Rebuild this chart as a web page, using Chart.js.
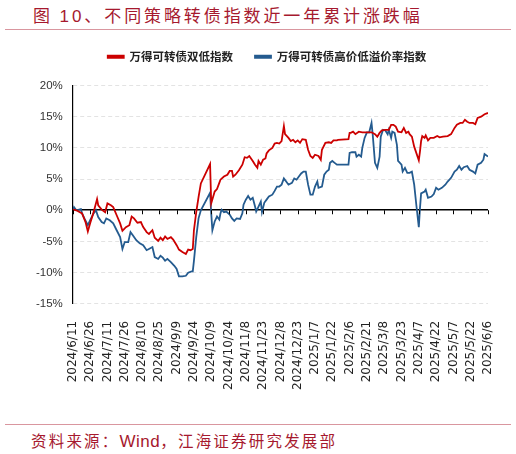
<!DOCTYPE html>
<html>
<head>
<meta charset="utf-8">
<script src="https://cdn.jsdelivr.net/npm/chart.js@4.4.1/dist/chart.umd.min.js"></script>
<style>
  html, body { margin: 0; padding: 0; background: #fff; }
  body { width: 516px; height: 454px; position: relative; overflow: hidden; }
  #title { position: absolute; left: 33px; top: 2px; font: 17px "Noto Sans CJK SC", sans-serif; letter-spacing: 2.9px; color: #a6192e; white-space: nowrap; }
  #title .num { font-family: "Liberation Sans", sans-serif; }
  .rule { position: absolute; left: 5px; width: 506px; height: 1px; background: #d9969f; }
  #box { position: absolute; left: 0; top: 21px; width: 516px; height: 397px; }
  #source { position: absolute; left: 31px; top: 429px; font: 15.5px "Noto Sans CJK SC", sans-serif; letter-spacing: 2.2px; color: #a6192e; white-space: nowrap; }
  #source .latin { font-family: "Liberation Sans", sans-serif; font-size: 17px; letter-spacing: 0.5px; }
</style>
</head>
<body>
<div id="title">图 <span class="num">10</span>、不同策略转债指数近一年累计涨跌幅</div>
<div class="rule" style="top:29px"></div>
<div id="box"><canvas id="chart"></canvas></div>
<div class="rule" style="top:424px"></div>
<div id="source">资料来源：<span class="latin">Wind</span>，江海证券研究发展部</div>

<script>
// x values are calendar days counted from 2024/6/11
const tickLabels = ['2024/6/11', '2024/6/26', '2024/7/11', '2024/7/26', '2024/8/10', '2024/8/25',
    '2024/9/9', '2024/9/24', '2024/10/9', '2024/10/24', '2024/11/8', '2024/11/23', '2024/12/8',
    '2024/12/23', '2025/1/7', '2025/1/22', '2025/2/6', '2025/2/21', '2025/3/8', '2025/3/23',
    '2025/4/7', '2025/4/22', '2025/5/7', '2025/5/22', '2025/6/6'];

const seriesNames = ['万得可转债双低指数', '万得可转债高价低溢价率指数'];

// 万得可转债双低指数 (%)
const redDays = [0, 1, 3, 8, 11, 13, 15, 18, 21, 22, 25, 28, 30, 33, 35, 38, 41, 43, 46, 49,
    51, 53, 56, 59, 61, 64, 66, 69, 71, 74, 76, 78, 80, 82, 85, 87, 90, 92, 95, 98,
    100, 102, 104, 105, 107, 109, 111, 119, 120, 123, 125, 127, 128, 131, 134, 136, 138, 139, 141, 144,
    147, 149, 151, 153, 156, 158, 160, 161, 163, 165, 167, 168, 170, 173, 175, 177, 179, 181, 183, 184,
    187, 189, 191, 193, 195, 197, 199, 202, 204, 206, 208, 210, 213, 215, 216, 219, 222, 224, 226, 229,
    230, 239, 240, 241, 243, 245, 248, 251, 254, 256, 259, 262, 264, 266, 268, 271, 274, 276, 278, 280,
    282, 285, 287, 289, 291, 292, 294, 296, 300, 301, 302, 303, 305, 306, 308, 310, 313, 316, 318, 321,
    325, 328, 331, 333, 336, 338, 340, 342, 344, 347, 349, 351, 354, 357, 360];
const redValues = [0.0, 0.1, 0.0, -0.5, -1.9, -3.4, -2.1, -0.3, 1.8, 0.8, 0.1, -0.3, 1.1, 0.8, 0.5, -0.8, -2.1, -3.3, -2.7, -2.4,
    -1.0, -1.3, -2.0, -1.9, -2.7, -3.5, -3.8, -3.2, -4.4, -4.9, -4.4, -4.8, -4.2, -4.6, -4.3, -4.7, -5.6, -6.3, -6.7, -7.0,
    -6.3, -6.4, -6.2, -3.2, -0.3, 2.1, 4.3, 7.4, 1.1, 3.0, 3.4, 4.4, 4.9, 5.4, 5.7, 6.3, 6.3, 5.4, 5.7, 6.4,
    7.3, 8.5, 8.4, 8.7, 7.9, 7.3, 6.8, 7.9, 7.3, 8.1, 8.3, 9.1, 9.6, 10.0, 10.7, 10.8, 10.7, 11.1, 13.5, 12.2,
    11.6, 11.1, 11.3, 10.9, 11.2, 10.8, 11.4, 11.3, 9.7, 8.7, 8.4, 8.9, 8.7, 8.1, 9.7, 10.8, 10.9, 10.8, 11.2, 11.2,
    11.3, 11.4, 12.4, 12.4, 12.6, 12.2, 12.6, 12.5, 12.5, 12.5, 12.5, 12.2, 11.8, 12.4, 12.8, 12.9, 12.9, 13.7, 13.7, 13.4,
    12.6, 12.5, 13.2, 12.4, 12.6, 12.2, 11.8, 10.2, 8.0, 9.4, 11.1, 11.9, 11.6, 12.0, 11.2, 11.6, 11.6, 11.9, 11.7, 11.8,
    11.9, 12.2, 13.2, 13.7, 14.0, 14.0, 14.5, 14.2, 14.0, 14.0, 13.8, 14.8, 15.0, 15.4, 15.6];

// 万得可转债高价低溢价率指数 (%)
const blueDays = [0, 1, 3, 7, 8, 10, 13, 15, 18, 20, 22, 25, 27, 29, 32, 35, 38, 41, 43, 45,
    48, 50, 52, 55, 58, 61, 64, 66, 69, 71, 74, 76, 78, 80, 82, 85, 88, 90, 92, 95,
    98, 100, 103, 104, 105, 107, 109, 111, 119, 120, 121, 122, 123, 125, 127, 128, 129, 131, 133, 136,
    138, 140, 142, 145, 147, 148, 150, 152, 154, 156, 158, 159, 161, 163, 164, 166, 168, 170, 173, 175,
    177, 179, 181, 183, 185, 187, 190, 192, 194, 196, 198, 200, 202, 204, 206, 208, 210, 212, 213, 216,
    218, 220, 222, 223, 225, 227, 229, 230, 239, 240, 242, 245, 246, 248, 250, 251, 253, 255, 257, 259,
    260, 262, 264, 266, 267, 269, 271, 273, 274, 276, 277, 279, 281, 282, 285, 286, 288, 290, 292, 294,
    296, 298, 300, 301, 302, 305, 306, 308, 311, 313, 315, 317, 320, 323, 325, 328, 331, 333, 335, 337,
    339, 342, 344, 347, 349, 351, 354, 356, 357, 360];
const blueValues = [0.0, 0.5, 0.0, 0.2, -0.5, -1.3, -2.4, -1.6, -0.5, 0.0, -1.1, -1.9, -2.1, -1.3, -1.6, -2.1, -3.2, -4.3, -6.2, -5.1,
    -5.1, -3.5, -4.0, -4.8, -5.3, -5.6, -6.4, -6.2, -5.9, -7.5, -7.8, -7.3, -7.6, -8.1, -7.8, -8.3, -8.9, -9.4, -10.6, -10.6,
    -10.5, -10.0, -9.8, -9.8, -8.1, -4.3, -1.3, 0.0, 2.8, -0.5, -3.2, -2.5, -1.8, -1.0, -1.5, -0.5, 0.1, -0.3, -0.2, -0.7,
    -1.3, -1.7, -1.3, -1.4, -0.5, 0.9, 1.7, 2.3, 1.7, 2.0, 0.6, -0.2, 0.6, 1.4, -0.3, 1.2, 1.7, 2.2, 2.5, 3.1,
    3.8, 3.8, 4.1, 5.1, 4.6, 4.1, 4.4, 5.1, 4.9, 5.4, 5.9, 6.2, 6.2, 4.1, 2.5, 2.5, 3.8, 4.6, 3.6, 3.8,
    5.7, 6.2, 6.5, 7.6, 7.9, 7.6, 7.3, 7.3, 7.3, 9.2, 9.3, 9.3, 8.6, 8.9, 8.6, 10.0, 11.6, 12.5, 12.5, 14.0,
    12.2, 7.6, 6.8, 8.6, 11.8, 12.9, 12.8, 12.2, 12.9, 11.6, 12.6, 12.4, 10.5, 7.9, 7.3, 6.2, 6.8, 6.0, 6.0, 6.2,
    4.1, 0.6, -2.7, 0.3, 2.7, 3.0, 3.3, 2.0, 2.2, 2.6, 3.6, 3.3, 3.6, 4.1, 4.6, 5.2, 6.2, 6.5, 7.1, 6.5,
    6.9, 7.1, 6.5, 6.2, 5.9, 7.3, 7.6, 8.1, 9.0, 8.6];

const yTicks = [-15, -10, -5, 0, 5, 10, 15, 20];

function toPoints(days, values) {
    return days.map((d, i) => ({ x: d, y: values[i] }));
}

// small ticks on the zero line, at each date label
const zeroTicks = {
    id: 'zeroTicks',
    afterDatasetsDraw(chart) {
        const xs = chart.scales.x;
        const y0 = chart.scales.y.getPixelForValue(0);
        const ctx = chart.ctx;
        ctx.save();
        ctx.strokeStyle = '#000';
        ctx.lineWidth = 1;
        ctx.beginPath();
        xs.ticks.forEach(t => {
            const px = Math.round(xs.getPixelForValue(t.value)) + 0.5;
            ctx.moveTo(px, y0);
            ctx.lineTo(px, y0 + 4);
        });
        ctx.stroke();
        ctx.restore();
    }
};

// legend sits a bit right of centre and leaves room above the plot
const legendGap = {
    id: 'legendGap',
    afterInit(chart) {
        const legend = chart.legend;
        if (!legend) return;
        const fit = legend.fit;
        legend.fit = function () {
            fit.call(this);
            this.height += 13;
        };
        const draw = legend.draw;
        legend.draw = function () {
            this.ctx.save();
            this.ctx.translate(10, 0);
            draw.call(this);
            this.ctx.restore();
        };
    }
};

new Chart(document.getElementById('chart'), {
    type: 'line',
    data: {
        datasets: [{
            label: seriesNames[0],
            data: toPoints(redDays, redValues),
            borderColor: '#cc0000',
            backgroundColor: '#cc0000',
            borderWidth: 1.8,
            pointRadius: 0,
            tension: 0
        }, {
            label: seriesNames[1],
            data: toPoints(blueDays, blueValues),
            borderColor: '#245b8f',
            backgroundColor: '#245b8f',
            borderWidth: 1.8,
            pointRadius: 0,
            tension: 0
        }]
    },
    options: {
        responsive: true,
        maintainAspectRatio: false,
        animation: false,
        layout: { padding: { left: 26, right: 28, top: 8, bottom: 19 } },
        plugins: {
            legend: {
                position: 'top',
                labels: {
                    boxWidth: 16,
                    boxHeight: 2,
                    padding: 22,
                    color: '#222',
                    font: { family: '"Noto Sans CJK SC", sans-serif', size: 11.5, weight: 'bold' }
                }
            },
            tooltip: { enabled: false }
        },
        scales: {
            x: {
                type: 'linear',
                min: 0,
                max: 360,
                grid: { display: false },
                border: { display: false },
                ticks: {
                    stepSize: 15,
                    autoSkip: false,
                    minRotation: 90,
                    maxRotation: 90,
                    padding: 9,
                    color: '#222',
                    font: { family: '"DejaVu Sans", sans-serif', size: 12 },
                    callback: v => tickLabels[v / 15]
                }
            },
            y: {
                min: -15,
                max: 20,
                afterBuildTicks: axis => { axis.ticks = yTicks.map(v => ({ value: v })); },
                grid: {
                    color: c => c.tick && c.tick.value === 0 ? '#000' : '#e3e3e3',
                    lineWidth: c => c.tick && c.tick.value === 0 ? 1.6 : 1,
                    drawTicks: false
                },
                border: {
                    display: true,
                    color: '#000',
                    width: 1.2,
                    dash: c => c.tick && c.tick.value === 0 ? [] : [4, 3]
                },
                ticks: {
                    padding: 10,
                    color: '#333',
                    font: { family: '"Liberation Sans Narrow", "Liberation Sans", sans-serif', size: 11.5 },
                    callback: v => v + '%'
                }
            }
        }
    },
    plugins: [zeroTicks, legendGap]
});
</script>
</body>
</html>
